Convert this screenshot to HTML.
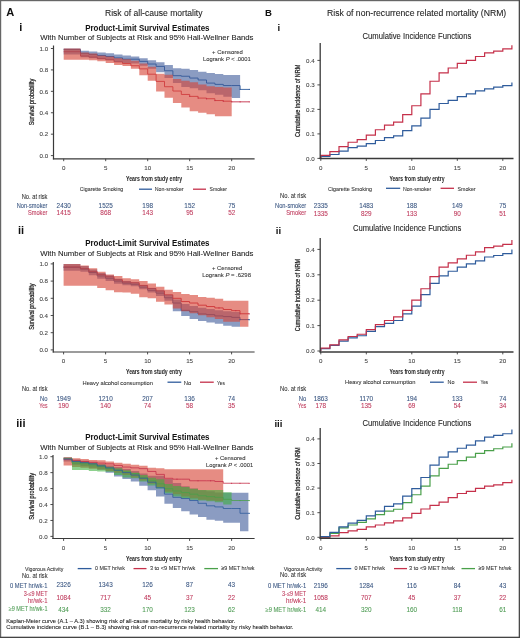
<!DOCTYPE html><html><head><meta charset="utf-8"><style>html,body{margin:0;padding:0;background:#fff;overflow:hidden}svg{display:block;will-change:transform}</style></head><body>
<svg width="520" height="638" viewBox="0 0 520 638" font-family='"Liberation Sans", sans-serif'>
<rect x="0" y="0" width="520" height="638" fill="#fff"/>
<text x="6.30" y="15.60" font-size="10.2" text-anchor="start" fill="#111" font-weight="bold" textLength="8.0" lengthAdjust="spacingAndGlyphs">A</text>
<text x="105.00" y="15.90" font-size="8.5" text-anchor="start" fill="#222" stroke="#222" stroke-width="0.08" textLength="97.5" lengthAdjust="spacingAndGlyphs">Risk of all-cause mortality</text>
<text x="19.20" y="30.60" font-size="11" text-anchor="start" fill="#111" font-weight="bold">i</text>
<text x="85.20" y="30.60" font-size="8.2" text-anchor="start" fill="#111" font-weight="bold" textLength="124.3" lengthAdjust="spacingAndGlyphs">Product-Limit Survival Estimates</text>
<text x="40.20" y="40.00" font-size="8.0" text-anchor="start" fill="#222" stroke="#222" stroke-width="0.08" textLength="213.3" lengthAdjust="spacingAndGlyphs">With Number of Subjects at Risk and 95% Hall-Wellner Bands</text>
<text x="212.10" y="53.60" font-size="6.2" text-anchor="start" fill="#333" stroke="#333" stroke-width="0.08" textLength="30.6" lengthAdjust="spacingAndGlyphs">+ Censored</text>
<text x="202.9" y="60.8" font-size="6.2" fill="#333" stroke="#333" stroke-width="0.08" textLength="47.9" lengthAdjust="spacingAndGlyphs">Logrank <tspan font-style="italic">P</tspan> &lt; .0001</text>
<path d="M63.70,49.57H80.50V53.32H88.90V54.39H97.30V55.46H105.70V56.53H114.10V57.92H122.50V59.21H130.90V59.21H139.30V61.35H147.70V64.03H156.10V66.39H164.50V70.78H172.90V75.70H181.30V76.24H189.70V78.06H198.10V79.99H206.50V83.09H214.90V84.38H223.30V85.56H231.70V85.56H240.10V89.41H249.34" fill="none" stroke="#2f5c9c" stroke-width="0.9"/>
<path d="M63.70,51.71H80.50V56.00H88.90V57.07H97.30V58.67H105.70V59.75H114.10V61.89H122.50V63.49H130.90V65.74H139.30V68.85H147.70V74.20H156.10V81.38H164.50V86.73H172.90V91.02H181.30V94.45H189.70V96.37H198.10V98.09H206.50V98.73H214.90V100.55H223.30V101.19H231.70V101.84H249.34" fill="none" stroke="#c5304a" stroke-width="0.9"/>
<path d="M63.70,48.50L80.50,48.50L80.50,50.64L88.90,50.64L88.90,51.50L97.30,51.50L97.30,52.46L105.70,52.46L105.70,53.32L114.10,53.32L114.10,54.39L122.50,54.39L122.50,55.46L130.90,55.46L130.90,56.43L139.30,56.43L139.30,58.35L147.70,58.35L147.70,60.28L156.10,60.28L156.10,62.21L164.50,62.21L164.50,64.99L172.90,64.99L172.90,68.21L181.30,68.21L181.30,68.74L189.70,68.74L189.70,69.92L198.10,69.92L198.10,71.85L206.50,71.85L206.50,73.03L214.90,73.03L214.90,73.88L223.30,73.88L223.30,74.95L231.70,74.95L231.70,74.95L240.10,74.95L240.10,98.09L231.70,98.09L231.70,96.69L223.30,96.69L223.30,94.87L214.90,94.87L214.90,93.16L206.50,93.16L206.50,90.27L198.10,90.27L198.10,88.13L189.70,88.13L189.70,87.06L181.30,87.06L181.30,82.88L172.90,82.88L172.90,78.06L164.50,78.06L164.50,72.28L156.10,72.28L156.10,68.85L147.70,68.85L147.70,65.64L139.30,65.64L139.30,63.49L130.90,63.49L130.90,62.96L122.50,62.96L122.50,61.89L114.10,61.89L114.10,60.28L105.70,60.28L105.70,59.21L97.30,59.21L97.30,58.14L88.90,58.14L88.90,57.28L80.50,57.28L80.50,54.50L63.70,54.50Z" fill="rgb(55,85,150)" fill-opacity="0.58"/>
<path d="M63.70,48.50L80.50,48.50L80.50,52.46L88.90,52.46L88.90,53.43L97.30,53.43L97.30,55.46L105.70,55.46L105.70,56.53L114.10,56.53L114.10,58.14L122.50,58.14L122.50,59.21L130.90,59.21L130.90,60.82L139.30,60.82L139.30,63.49L147.70,63.49L147.70,66.71L156.10,66.71L156.10,73.78L164.50,73.78L164.50,74.74L172.90,74.74L172.90,79.02L181.30,79.02L181.30,80.63L189.70,80.63L189.70,82.24L198.10,82.24L198.10,84.38L206.50,84.38L206.50,86.31L214.90,86.31L214.90,86.95L223.30,86.95L223.30,87.48L231.70,87.48L231.70,116.29L223.30,116.29L223.30,116.29L214.90,116.29L214.90,114.37L206.50,114.37L206.50,112.76L198.10,112.76L198.10,111.26L189.70,111.26L189.70,107.51L181.30,107.51L181.30,103.12L172.90,103.12L172.90,97.77L164.50,97.77L164.50,91.55L156.10,91.55L156.10,80.63L147.70,80.63L147.70,75.28L139.30,75.28L139.30,68.85L130.90,68.85L130.90,65.96L122.50,65.96L122.50,64.99L114.10,64.99L114.10,62.96L105.70,62.96L105.70,61.35L97.30,61.35L97.30,60.28L88.90,60.28L88.90,59.64L80.50,59.64L80.50,59.64L63.70,59.64Z" fill="rgb(215,70,55)" fill-opacity="0.62"/>
<circle cx="240.10" cy="89.41" r="0.65" fill="#2f5c9c"/>
<circle cx="249.34" cy="89.41" r="0.65" fill="#2f5c9c"/>
<circle cx="189.70" cy="96.37" r="0.65" fill="#c5304a"/>
<circle cx="198.10" cy="98.09" r="0.65" fill="#c5304a"/>
<circle cx="206.50" cy="98.73" r="0.65" fill="#c5304a"/>
<circle cx="214.90" cy="100.55" r="0.65" fill="#c5304a"/>
<circle cx="223.30" cy="101.19" r="0.65" fill="#c5304a"/>
<circle cx="231.70" cy="101.84" r="0.65" fill="#c5304a"/>
<circle cx="240.10" cy="101.84" r="0.65" fill="#c5304a"/>
<circle cx="249.34" cy="101.84" r="0.65" fill="#c5304a"/>
<line x1="53.50" y1="45.50" x2="53.50" y2="159.40" stroke="#3a3a3a" stroke-width="1.2"/>
<line x1="52.90" y1="158.80" x2="254.60" y2="158.80" stroke="#3a3a3a" stroke-width="1.2"/>
<line x1="50.90" y1="155.60" x2="53.50" y2="155.60" stroke="#3a3a3a" stroke-width="0.9"/>
<text x="48.20" y="157.80" font-size="6.2" text-anchor="end" fill="#444" stroke="#444" stroke-width="0.08">0.0</text>
<line x1="50.90" y1="134.18" x2="53.50" y2="134.18" stroke="#3a3a3a" stroke-width="0.9"/>
<text x="48.20" y="136.38" font-size="6.2" text-anchor="end" fill="#444" stroke="#444" stroke-width="0.08">0.2</text>
<line x1="50.90" y1="112.76" x2="53.50" y2="112.76" stroke="#3a3a3a" stroke-width="0.9"/>
<text x="48.20" y="114.96" font-size="6.2" text-anchor="end" fill="#444" stroke="#444" stroke-width="0.08">0.4</text>
<line x1="50.90" y1="91.34" x2="53.50" y2="91.34" stroke="#3a3a3a" stroke-width="0.9"/>
<text x="48.20" y="93.54" font-size="6.2" text-anchor="end" fill="#444" stroke="#444" stroke-width="0.08">0.6</text>
<line x1="50.90" y1="69.92" x2="53.50" y2="69.92" stroke="#3a3a3a" stroke-width="0.9"/>
<text x="48.20" y="72.12" font-size="6.2" text-anchor="end" fill="#444" stroke="#444" stroke-width="0.08">0.8</text>
<line x1="50.90" y1="48.50" x2="53.50" y2="48.50" stroke="#3a3a3a" stroke-width="0.9"/>
<text x="48.20" y="50.70" font-size="6.2" text-anchor="end" fill="#444" stroke="#444" stroke-width="0.08">1.0</text>
<line x1="63.70" y1="158.80" x2="63.70" y2="161.20" stroke="#3a3a3a" stroke-width="0.9"/>
<text x="63.70" y="169.60" font-size="6.2" text-anchor="middle" fill="#444" stroke="#444" stroke-width="0.08">0</text>
<line x1="105.70" y1="158.80" x2="105.70" y2="161.20" stroke="#3a3a3a" stroke-width="0.9"/>
<text x="105.70" y="169.60" font-size="6.2" text-anchor="middle" fill="#444" stroke="#444" stroke-width="0.08">5</text>
<line x1="147.70" y1="158.80" x2="147.70" y2="161.20" stroke="#3a3a3a" stroke-width="0.9"/>
<text x="147.70" y="169.60" font-size="6.2" text-anchor="middle" fill="#444" stroke="#444" stroke-width="0.08">10</text>
<line x1="189.70" y1="158.80" x2="189.70" y2="161.20" stroke="#3a3a3a" stroke-width="0.9"/>
<text x="189.70" y="169.60" font-size="6.2" text-anchor="middle" fill="#444" stroke="#444" stroke-width="0.08">15</text>
<line x1="231.70" y1="158.80" x2="231.70" y2="161.20" stroke="#3a3a3a" stroke-width="0.9"/>
<text x="231.70" y="169.60" font-size="6.2" text-anchor="middle" fill="#444" stroke="#444" stroke-width="0.08">20</text>
<text x="34.20" y="102.00" font-size="7.0" text-anchor="middle" fill="#222" textLength="46.4" lengthAdjust="spacingAndGlyphs" transform="rotate(-90 34.20 102.00)" style="stroke:#222;stroke-width:0.25">Survival probability</text>
<text x="126.00" y="181.20" font-size="7.0" text-anchor="start" fill="#222" font-weight="bold" textLength="56.2" lengthAdjust="spacingAndGlyphs">Years from study entry</text>
<text x="79.80" y="191.00" font-size="6.0" text-anchor="start" fill="#333" stroke="#333" stroke-width="0.08" textLength="43.5" lengthAdjust="spacingAndGlyphs">Cigarette Smoking</text>
<line x1="139.00" y1="189.20" x2="152.00" y2="189.20" stroke="#2f5c9c" stroke-width="1.3"/>
<text x="154.80" y="191.00" font-size="6.0" text-anchor="start" fill="#333" stroke="#333" stroke-width="0.08" textLength="28.8" lengthAdjust="spacingAndGlyphs">Non-smoker</text>
<line x1="193.00" y1="189.20" x2="206.00" y2="189.20" stroke="#c5304a" stroke-width="1.3"/>
<text x="209.60" y="191.00" font-size="6.0" text-anchor="start" fill="#333" stroke="#333" stroke-width="0.08" textLength="17.4" lengthAdjust="spacingAndGlyphs">Smoker</text>
<text x="47.50" y="198.50" font-size="6.5" text-anchor="end" fill="#333" stroke="#333" stroke-width="0.08" textLength="25.8" lengthAdjust="spacingAndGlyphs">No. at risk</text>
<text x="47.50" y="207.90" font-size="6.3" text-anchor="end" fill="#3a5682" stroke="#3a5682" stroke-width="0.08" textLength="30.8" lengthAdjust="spacingAndGlyphs">Non-smoker</text>
<text x="63.70" y="207.90" font-size="6.4" text-anchor="middle" fill="#3a5682" stroke="#3a5682" stroke-width="0.08">2430</text>
<text x="105.70" y="207.90" font-size="6.4" text-anchor="middle" fill="#3a5682" stroke="#3a5682" stroke-width="0.08">1525</text>
<text x="147.70" y="207.90" font-size="6.4" text-anchor="middle" fill="#3a5682" stroke="#3a5682" stroke-width="0.08">198</text>
<text x="189.70" y="207.90" font-size="6.4" text-anchor="middle" fill="#3a5682" stroke="#3a5682" stroke-width="0.08">152</text>
<text x="231.70" y="207.90" font-size="6.4" text-anchor="middle" fill="#3a5682" stroke="#3a5682" stroke-width="0.08">75</text>
<text x="47.50" y="215.20" font-size="6.3" text-anchor="end" fill="#bf3a5c" stroke="#bf3a5c" stroke-width="0.08" textLength="19.6" lengthAdjust="spacingAndGlyphs">Smoker</text>
<text x="63.70" y="215.20" font-size="6.4" text-anchor="middle" fill="#bf3a5c" stroke="#bf3a5c" stroke-width="0.08">1415</text>
<text x="105.70" y="215.20" font-size="6.4" text-anchor="middle" fill="#bf3a5c" stroke="#bf3a5c" stroke-width="0.08">868</text>
<text x="147.70" y="215.20" font-size="6.4" text-anchor="middle" fill="#bf3a5c" stroke="#bf3a5c" stroke-width="0.08">143</text>
<text x="189.70" y="215.20" font-size="6.4" text-anchor="middle" fill="#bf3a5c" stroke="#bf3a5c" stroke-width="0.08">95</text>
<text x="231.70" y="215.20" font-size="6.4" text-anchor="middle" fill="#bf3a5c" stroke="#bf3a5c" stroke-width="0.08">52</text>
<text x="265.00" y="15.50" font-size="9.6" text-anchor="start" fill="#111" font-weight="bold">B</text>
<text x="327.00" y="15.70" font-size="8.5" text-anchor="start" fill="#222" stroke="#222" stroke-width="0.08" textLength="179.25" lengthAdjust="spacingAndGlyphs">Risk of non-recurrence related mortality (NRM)</text>
<text x="277.50" y="30.50" font-size="9.6" text-anchor="start" fill="#111" font-weight="bold">i</text>
<text x="362.50" y="38.80" font-size="8.2" text-anchor="start" fill="#222" stroke="#222" stroke-width="0.08" textLength="108.75" lengthAdjust="spacingAndGlyphs">Cumulative Incidence Functions</text>
<path d="M320.80,158.40V156.44H329.90V154.48H339.00V151.05H348.10V147.62H357.20V146.15H366.30V143.70H375.40V140.52H384.50V137.57H393.60V135.86H402.70V130.72H411.80V125.81H420.90V118.22H430.00V109.40H439.10V103.52H448.20V100.34H457.30V96.66H466.40V93.97H475.50V90.78H484.60V88.82H493.70V87.11H502.80V85.64H511.90V82.45" fill="none" stroke="#2f5c9c" stroke-width="1.2"/>
<path d="M320.80,158.40V155.46H329.90V151.54H339.00V146.64H348.10V142.23H357.20V139.53H366.30V135.12H375.40V129.74H384.50V125.08H393.60V122.14H402.70V114.55H411.80V105.73H420.90V93.97H430.00V81.23H439.10V72.90H448.20V68.00H457.30V63.34H466.40V60.40H475.50V56.48H484.60V52.81H493.70V51.09H502.80V48.89H511.90V45.21" fill="none" stroke="#c5304a" stroke-width="1.2"/>
<line x1="320.20" y1="43.00" x2="320.20" y2="159.10" stroke="#3a3a3a" stroke-width="1.3"/>
<line x1="319.60" y1="158.50" x2="513.50" y2="158.50" stroke="#3a3a3a" stroke-width="1.3"/>
<line x1="317.40" y1="158.40" x2="320.20" y2="158.40" stroke="#3a3a3a" stroke-width="0.9"/>
<text x="314.70" y="160.60" font-size="6.2" text-anchor="end" fill="#444" stroke="#444" stroke-width="0.08">0.0</text>
<line x1="317.40" y1="133.90" x2="320.20" y2="133.90" stroke="#3a3a3a" stroke-width="0.9"/>
<text x="314.70" y="136.10" font-size="6.2" text-anchor="end" fill="#444" stroke="#444" stroke-width="0.08">0.1</text>
<line x1="317.40" y1="109.40" x2="320.20" y2="109.40" stroke="#3a3a3a" stroke-width="0.9"/>
<text x="314.70" y="111.60" font-size="6.2" text-anchor="end" fill="#444" stroke="#444" stroke-width="0.08">0.2</text>
<line x1="317.40" y1="84.90" x2="320.20" y2="84.90" stroke="#3a3a3a" stroke-width="0.9"/>
<text x="314.70" y="87.10" font-size="6.2" text-anchor="end" fill="#444" stroke="#444" stroke-width="0.08">0.3</text>
<line x1="317.40" y1="60.40" x2="320.20" y2="60.40" stroke="#3a3a3a" stroke-width="0.9"/>
<text x="314.70" y="62.60" font-size="6.2" text-anchor="end" fill="#444" stroke="#444" stroke-width="0.08">0.4</text>
<line x1="320.80" y1="158.50" x2="320.80" y2="160.90" stroke="#3a3a3a" stroke-width="0.9"/>
<text x="320.80" y="169.60" font-size="6.2" text-anchor="middle" fill="#444" stroke="#444" stroke-width="0.08">0</text>
<line x1="366.30" y1="158.50" x2="366.30" y2="160.90" stroke="#3a3a3a" stroke-width="0.9"/>
<text x="366.30" y="169.60" font-size="6.2" text-anchor="middle" fill="#444" stroke="#444" stroke-width="0.08">5</text>
<line x1="411.80" y1="158.50" x2="411.80" y2="160.90" stroke="#3a3a3a" stroke-width="0.9"/>
<text x="411.80" y="169.60" font-size="6.2" text-anchor="middle" fill="#444" stroke="#444" stroke-width="0.08">10</text>
<line x1="457.30" y1="158.50" x2="457.30" y2="160.90" stroke="#3a3a3a" stroke-width="0.9"/>
<text x="457.30" y="169.60" font-size="6.2" text-anchor="middle" fill="#444" stroke="#444" stroke-width="0.08">15</text>
<line x1="502.80" y1="158.50" x2="502.80" y2="160.90" stroke="#3a3a3a" stroke-width="0.9"/>
<text x="502.80" y="169.60" font-size="6.2" text-anchor="middle" fill="#444" stroke="#444" stroke-width="0.08">20</text>
<text x="300.20" y="100.90" font-size="7.0" text-anchor="middle" fill="#222" textLength="72.3" lengthAdjust="spacingAndGlyphs" transform="rotate(-90 300.20 100.90)" style="stroke:#222;stroke-width:0.25">Cumulative incidence of NRM</text>
<text x="389.40" y="181.00" font-size="7.0" text-anchor="start" fill="#222" font-weight="bold" textLength="55.2" lengthAdjust="spacingAndGlyphs">Years from study entry</text>
<text x="328.00" y="190.50" font-size="6.0" text-anchor="start" fill="#333" stroke="#333" stroke-width="0.08" textLength="44" lengthAdjust="spacingAndGlyphs">Cigarette Smoking</text>
<line x1="386.00" y1="188.30" x2="400.20" y2="188.30" stroke="#2f5c9c" stroke-width="1.3"/>
<text x="402.90" y="190.50" font-size="6.0" text-anchor="start" fill="#333" stroke="#333" stroke-width="0.08" textLength="28.3" lengthAdjust="spacingAndGlyphs">Non-smoker</text>
<line x1="440.60" y1="188.30" x2="454.00" y2="188.30" stroke="#c5304a" stroke-width="1.3"/>
<text x="457.50" y="190.50" font-size="6.0" text-anchor="start" fill="#333" stroke="#333" stroke-width="0.08" textLength="18.1" lengthAdjust="spacingAndGlyphs">Smoker</text>
<text x="306.25" y="198.00" font-size="6.5" text-anchor="end" fill="#333" stroke="#333" stroke-width="0.08" textLength="26.25" lengthAdjust="spacingAndGlyphs">No. at risk</text>
<text x="306.25" y="207.80" font-size="6.3" text-anchor="end" fill="#3a5682" stroke="#3a5682" stroke-width="0.08" textLength="31.25" lengthAdjust="spacingAndGlyphs">Non-smoker</text>
<text x="320.80" y="208.20" font-size="6.4" text-anchor="middle" fill="#3a5682" stroke="#3a5682" stroke-width="0.08">2335</text>
<text x="366.30" y="208.20" font-size="6.4" text-anchor="middle" fill="#3a5682" stroke="#3a5682" stroke-width="0.08">1483</text>
<text x="411.80" y="208.20" font-size="6.4" text-anchor="middle" fill="#3a5682" stroke="#3a5682" stroke-width="0.08">188</text>
<text x="457.30" y="208.20" font-size="6.4" text-anchor="middle" fill="#3a5682" stroke="#3a5682" stroke-width="0.08">149</text>
<text x="502.80" y="208.20" font-size="6.4" text-anchor="middle" fill="#3a5682" stroke="#3a5682" stroke-width="0.08">75</text>
<text x="306.25" y="215.20" font-size="6.3" text-anchor="end" fill="#bf3a5c" stroke="#bf3a5c" stroke-width="0.08" textLength="20" lengthAdjust="spacingAndGlyphs">Smoker</text>
<text x="320.80" y="215.60" font-size="6.4" text-anchor="middle" fill="#bf3a5c" stroke="#bf3a5c" stroke-width="0.08">1335</text>
<text x="366.30" y="215.60" font-size="6.4" text-anchor="middle" fill="#bf3a5c" stroke="#bf3a5c" stroke-width="0.08">829</text>
<text x="411.80" y="215.60" font-size="6.4" text-anchor="middle" fill="#bf3a5c" stroke="#bf3a5c" stroke-width="0.08">133</text>
<text x="457.30" y="215.60" font-size="6.4" text-anchor="middle" fill="#bf3a5c" stroke="#bf3a5c" stroke-width="0.08">90</text>
<text x="502.80" y="215.60" font-size="6.4" text-anchor="middle" fill="#bf3a5c" stroke="#bf3a5c" stroke-width="0.08">51</text>
<text x="17.90" y="234.40" font-size="11" text-anchor="start" fill="#111" font-weight="bold">ii</text>
<text x="85.20" y="246.00" font-size="8.2" text-anchor="start" fill="#111" font-weight="bold" textLength="124.3" lengthAdjust="spacingAndGlyphs">Product-Limit Survival Estimates</text>
<text x="40.20" y="256.00" font-size="8.0" text-anchor="start" fill="#222" stroke="#222" stroke-width="0.08" textLength="213.3" lengthAdjust="spacingAndGlyphs">With Number of Subjects at Risk and 95% Hall-Wellner Bands</text>
<text x="211.90" y="269.75" font-size="6.2" text-anchor="start" fill="#333" stroke="#333" stroke-width="0.08" textLength="30.35" lengthAdjust="spacingAndGlyphs">+ Censored</text>
<text x="202.25" y="276.9" font-size="6.2" fill="#333" stroke="#333" stroke-width="0.08" textLength="48.75" lengthAdjust="spacingAndGlyphs">Logrank <tspan font-style="italic">P</tspan> = .6298</text>
<path d="M63.60,267.34H80.40V269.06H88.80V272.50H97.20V275.94H105.60V278.26H114.00V281.10H122.40V283.16H130.80V284.28H139.20V287.12H147.60V290.30H156.00V293.14H164.40V297.78H172.80V303.03H181.20V310.34H189.60V311.72H198.00V313.95H206.40V314.64H214.80V315.93H223.20V316.62H231.60V317.39H240.00V319.63H249.24" fill="none" stroke="#2f5c9c" stroke-width="1.0"/>
<path d="M63.60,266.91H80.40V268.63H88.80V271.64H97.20V274.65H105.60V276.80H114.00V279.81H122.40V281.96H130.80V282.82H139.20V285.40H147.60V288.41H156.00V290.99H164.40V294.86H172.80V298.30H181.20V301.57H189.60V303.03H198.00V305.18H206.40V306.56H214.80V307.93H223.20V309.48H231.60V310.68H240.00V313.78H249.24" fill="none" stroke="#c5304a" stroke-width="1.0"/>
<path d="M63.60,263.90L80.40,263.90L80.40,266.05L88.80,266.05L88.80,269.49L97.20,269.49L97.20,273.02L105.60,273.02L105.60,275.34L114.00,275.34L114.00,278.78L122.40,278.78L122.40,281.10L130.80,281.10L130.80,282.22L139.20,282.22L139.20,285.23L147.60,285.23L147.60,287.98L156.00,287.98L156.00,290.30L164.40,290.30L164.40,294.86L172.80,294.86L172.80,299.50L181.20,299.50L181.20,303.98L189.60,303.98L189.60,306.04L198.00,306.04L198.00,307.76L206.40,307.76L206.40,309.05L214.80,309.05L214.80,310.34L223.20,310.34L223.20,311.20L231.60,311.20L231.60,312.06L240.00,312.06L240.00,326.77L231.60,326.77L231.60,325.73L223.20,325.73L223.20,323.67L214.80,323.67L214.80,322.47L206.40,322.47L206.40,321.00L198.00,321.00L198.00,318.94L189.60,318.94L189.60,316.02L181.20,316.02L181.20,311.20L172.80,311.20L172.80,300.71L164.40,300.71L164.40,295.98L156.00,295.98L156.00,292.62L147.60,292.62L147.60,289.18L139.20,289.18L139.20,286.26L130.80,286.26L130.80,285.23L122.40,285.23L122.40,283.77L114.00,283.77L114.00,281.10L105.60,281.10L105.60,278.78L97.20,278.78L97.20,275.34L88.80,275.34L88.80,271.81L80.40,271.81L80.40,270.78L63.60,270.78Z" fill="rgb(55,85,150)" fill-opacity="0.58"/>
<path d="M63.60,263.90L80.40,263.90L80.40,265.62L88.80,265.62L88.80,268.37L97.20,268.37L97.20,271.81L105.60,271.81L105.60,274.56L114.00,274.56L114.00,275.94L122.40,275.94L122.40,278.26L130.80,278.26L130.80,279.21L139.20,279.21L139.20,281.10L147.60,281.10L147.60,283.42L156.00,283.42L156.00,286.78L164.40,286.78L164.40,289.70L172.80,289.70L172.80,292.11L181.20,292.11L181.20,294.00L189.60,294.00L189.60,295.03L198.00,295.03L198.00,296.92L206.40,296.92L206.40,297.87L214.80,297.87L214.80,298.82L223.20,298.82L223.20,300.79L231.60,300.79L231.60,300.79L240.00,300.79L240.00,300.79L248.40,300.79L248.40,326.68L240.00,326.68L240.00,321.86L231.60,321.86L231.60,321.86L223.20,321.86L223.20,319.03L214.80,319.03L214.80,317.13L206.40,317.13L206.40,315.24L198.00,315.24L198.00,313.26L189.60,313.26L189.60,311.29L181.20,311.29L181.20,308.53L172.80,308.53L172.80,304.58L164.40,304.58L164.40,301.74L156.00,301.74L156.00,298.30L147.60,298.30L147.60,297.18L139.20,297.18L139.20,293.83L130.80,293.83L130.80,292.62L122.40,292.62L122.40,292.19L114.00,292.19L114.00,290.30L105.60,290.30L105.60,287.98L97.20,287.98L97.20,285.74L88.80,285.74L88.80,285.74L80.40,285.74L80.40,285.74L63.60,285.74Z" fill="rgb(215,70,55)" fill-opacity="0.62"/>
<circle cx="240.00" cy="313.78" r="0.6" fill="#c5304a"/>
<circle cx="249.24" cy="313.78" r="0.6" fill="#c5304a"/>
<circle cx="219.00" cy="307.93" r="0.6" fill="#c5304a"/>
<circle cx="235.80" cy="310.68" r="0.6" fill="#c5304a"/>
<circle cx="240.00" cy="319.63" r="0.6" fill="#2f5c9c"/>
<circle cx="249.24" cy="319.63" r="0.6" fill="#2f5c9c"/>
<line x1="53.30" y1="262.00" x2="53.30" y2="352.60" stroke="#3a3a3a" stroke-width="1.2"/>
<line x1="52.70" y1="352.00" x2="254.60" y2="352.00" stroke="#3a3a3a" stroke-width="1.2"/>
<line x1="50.70" y1="349.90" x2="53.30" y2="349.90" stroke="#3a3a3a" stroke-width="0.9"/>
<text x="48.00" y="352.10" font-size="6.2" text-anchor="end" fill="#444" stroke="#444" stroke-width="0.08">0.0</text>
<line x1="50.70" y1="332.70" x2="53.30" y2="332.70" stroke="#3a3a3a" stroke-width="0.9"/>
<text x="48.00" y="334.90" font-size="6.2" text-anchor="end" fill="#444" stroke="#444" stroke-width="0.08">0.2</text>
<line x1="50.70" y1="315.50" x2="53.30" y2="315.50" stroke="#3a3a3a" stroke-width="0.9"/>
<text x="48.00" y="317.70" font-size="6.2" text-anchor="end" fill="#444" stroke="#444" stroke-width="0.08">0.4</text>
<line x1="50.70" y1="298.30" x2="53.30" y2="298.30" stroke="#3a3a3a" stroke-width="0.9"/>
<text x="48.00" y="300.50" font-size="6.2" text-anchor="end" fill="#444" stroke="#444" stroke-width="0.08">0.6</text>
<line x1="50.70" y1="281.10" x2="53.30" y2="281.10" stroke="#3a3a3a" stroke-width="0.9"/>
<text x="48.00" y="283.30" font-size="6.2" text-anchor="end" fill="#444" stroke="#444" stroke-width="0.08">0.8</text>
<line x1="50.70" y1="263.90" x2="53.30" y2="263.90" stroke="#3a3a3a" stroke-width="0.9"/>
<text x="48.00" y="266.10" font-size="6.2" text-anchor="end" fill="#444" stroke="#444" stroke-width="0.08">1.0</text>
<line x1="63.60" y1="352.00" x2="63.60" y2="354.40" stroke="#3a3a3a" stroke-width="0.9"/>
<text x="63.60" y="362.80" font-size="6.2" text-anchor="middle" fill="#444" stroke="#444" stroke-width="0.08">0</text>
<line x1="105.60" y1="352.00" x2="105.60" y2="354.40" stroke="#3a3a3a" stroke-width="0.9"/>
<text x="105.60" y="362.80" font-size="6.2" text-anchor="middle" fill="#444" stroke="#444" stroke-width="0.08">5</text>
<line x1="147.60" y1="352.00" x2="147.60" y2="354.40" stroke="#3a3a3a" stroke-width="0.9"/>
<text x="147.60" y="362.80" font-size="6.2" text-anchor="middle" fill="#444" stroke="#444" stroke-width="0.08">10</text>
<line x1="189.60" y1="352.00" x2="189.60" y2="354.40" stroke="#3a3a3a" stroke-width="0.9"/>
<text x="189.60" y="362.80" font-size="6.2" text-anchor="middle" fill="#444" stroke="#444" stroke-width="0.08">15</text>
<line x1="231.60" y1="352.00" x2="231.60" y2="354.40" stroke="#3a3a3a" stroke-width="0.9"/>
<text x="231.60" y="362.80" font-size="6.2" text-anchor="middle" fill="#444" stroke="#444" stroke-width="0.08">20</text>
<text x="33.60" y="306.70" font-size="7.0" text-anchor="middle" fill="#222" textLength="46.3" lengthAdjust="spacingAndGlyphs" transform="rotate(-90 33.60 306.70)" style="stroke:#222;stroke-width:0.25">Survival probability</text>
<text x="126.00" y="374.40" font-size="7.0" text-anchor="start" fill="#222" font-weight="bold" textLength="55.75" lengthAdjust="spacingAndGlyphs">Years from study entry</text>
<text x="82.50" y="384.50" font-size="6.0" text-anchor="start" fill="#333" stroke="#333" stroke-width="0.08" textLength="70.5" lengthAdjust="spacingAndGlyphs">Heavy alcohol consumption</text>
<line x1="167.50" y1="382.20" x2="181.25" y2="382.20" stroke="#2f5c9c" stroke-width="1.3"/>
<text x="183.75" y="384.50" font-size="6.0" text-anchor="start" fill="#333" stroke="#333" stroke-width="0.08" textLength="7.5" lengthAdjust="spacingAndGlyphs">No</text>
<line x1="200.00" y1="382.20" x2="213.75" y2="382.20" stroke="#c5304a" stroke-width="1.3"/>
<text x="217.00" y="384.50" font-size="6.0" text-anchor="start" fill="#333" stroke="#333" stroke-width="0.08" textLength="8" lengthAdjust="spacingAndGlyphs">Yes</text>
<text x="47.50" y="391.30" font-size="6.5" text-anchor="end" fill="#333" stroke="#333" stroke-width="0.08" textLength="25.5" lengthAdjust="spacingAndGlyphs">No. at risk</text>
<text x="47.50" y="400.60" font-size="6.3" text-anchor="end" fill="#3a5682" stroke="#3a5682" stroke-width="0.08" textLength="7.5" lengthAdjust="spacingAndGlyphs">No</text>
<text x="63.60" y="400.80" font-size="6.4" text-anchor="middle" fill="#3a5682" stroke="#3a5682" stroke-width="0.08">1949</text>
<text x="105.60" y="400.80" font-size="6.4" text-anchor="middle" fill="#3a5682" stroke="#3a5682" stroke-width="0.08">1210</text>
<text x="147.60" y="400.80" font-size="6.4" text-anchor="middle" fill="#3a5682" stroke="#3a5682" stroke-width="0.08">207</text>
<text x="189.60" y="400.80" font-size="6.4" text-anchor="middle" fill="#3a5682" stroke="#3a5682" stroke-width="0.08">136</text>
<text x="231.60" y="400.80" font-size="6.4" text-anchor="middle" fill="#3a5682" stroke="#3a5682" stroke-width="0.08">74</text>
<text x="47.50" y="407.60" font-size="6.3" text-anchor="end" fill="#bf3a5c" stroke="#bf3a5c" stroke-width="0.08" textLength="8.25" lengthAdjust="spacingAndGlyphs">Yes</text>
<text x="63.60" y="407.80" font-size="6.4" text-anchor="middle" fill="#bf3a5c" stroke="#bf3a5c" stroke-width="0.08">190</text>
<text x="105.60" y="407.80" font-size="6.4" text-anchor="middle" fill="#bf3a5c" stroke="#bf3a5c" stroke-width="0.08">140</text>
<text x="147.60" y="407.80" font-size="6.4" text-anchor="middle" fill="#bf3a5c" stroke="#bf3a5c" stroke-width="0.08">74</text>
<text x="189.60" y="407.80" font-size="6.4" text-anchor="middle" fill="#bf3a5c" stroke="#bf3a5c" stroke-width="0.08">58</text>
<text x="231.60" y="407.80" font-size="6.4" text-anchor="middle" fill="#bf3a5c" stroke="#bf3a5c" stroke-width="0.08">35</text>
<text x="275.80" y="234.20" font-size="9.6" text-anchor="start" fill="#111" font-weight="bold">ii</text>
<text x="353.00" y="230.50" font-size="8.2" text-anchor="start" fill="#222" stroke="#222" stroke-width="0.08" textLength="108.25" lengthAdjust="spacingAndGlyphs">Cumulative Incidence Functions</text>
<path d="M320.80,351.00V348.71H329.90V345.41H339.00V341.09H348.10V337.79H357.20V335.76H366.30V331.44H375.40V326.62H384.50V323.31H393.60V320.52H402.70V313.92H411.80V306.04H420.90V294.61H430.00V283.44H439.10V275.82H448.20V271.24H457.30V267.18H466.40V263.88H475.50V260.83H484.60V257.02H493.70V255.50H502.80V253.72H511.90V249.40" fill="none" stroke="#2f5c9c" stroke-width="1.2"/>
<path d="M320.80,351.00V348.21H329.90V344.90H339.00V339.82H348.10V336.52H357.20V334.24H366.30V329.66H375.40V324.58H384.50V320.52H393.60V316.96H402.70V310.36H411.80V300.20H420.90V288.77H430.00V276.58H439.10V267.18H448.20V262.86H457.30V258.80H466.40V255.24H475.50V251.94H484.60V247.62H493.70V246.10H502.80V244.32H511.90V240.00" fill="none" stroke="#c5304a" stroke-width="1.2"/>
<line x1="320.20" y1="238.00" x2="320.20" y2="352.60" stroke="#3a3a3a" stroke-width="1.3"/>
<line x1="319.60" y1="352.00" x2="513.50" y2="352.00" stroke="#3a3a3a" stroke-width="1.3"/>
<line x1="317.40" y1="351.00" x2="320.20" y2="351.00" stroke="#3a3a3a" stroke-width="0.9"/>
<text x="314.70" y="353.20" font-size="6.2" text-anchor="end" fill="#444" stroke="#444" stroke-width="0.08">0.0</text>
<line x1="317.40" y1="325.60" x2="320.20" y2="325.60" stroke="#3a3a3a" stroke-width="0.9"/>
<text x="314.70" y="327.80" font-size="6.2" text-anchor="end" fill="#444" stroke="#444" stroke-width="0.08">0.1</text>
<line x1="317.40" y1="300.20" x2="320.20" y2="300.20" stroke="#3a3a3a" stroke-width="0.9"/>
<text x="314.70" y="302.40" font-size="6.2" text-anchor="end" fill="#444" stroke="#444" stroke-width="0.08">0.2</text>
<line x1="317.40" y1="274.80" x2="320.20" y2="274.80" stroke="#3a3a3a" stroke-width="0.9"/>
<text x="314.70" y="277.00" font-size="6.2" text-anchor="end" fill="#444" stroke="#444" stroke-width="0.08">0.3</text>
<line x1="317.40" y1="249.40" x2="320.20" y2="249.40" stroke="#3a3a3a" stroke-width="0.9"/>
<text x="314.70" y="251.60" font-size="6.2" text-anchor="end" fill="#444" stroke="#444" stroke-width="0.08">0.4</text>
<line x1="320.80" y1="352.00" x2="320.80" y2="354.40" stroke="#3a3a3a" stroke-width="0.9"/>
<text x="320.80" y="362.80" font-size="6.2" text-anchor="middle" fill="#444" stroke="#444" stroke-width="0.08">0</text>
<line x1="366.30" y1="352.00" x2="366.30" y2="354.40" stroke="#3a3a3a" stroke-width="0.9"/>
<text x="366.30" y="362.80" font-size="6.2" text-anchor="middle" fill="#444" stroke="#444" stroke-width="0.08">5</text>
<line x1="411.80" y1="352.00" x2="411.80" y2="354.40" stroke="#3a3a3a" stroke-width="0.9"/>
<text x="411.80" y="362.80" font-size="6.2" text-anchor="middle" fill="#444" stroke="#444" stroke-width="0.08">10</text>
<line x1="457.30" y1="352.00" x2="457.30" y2="354.40" stroke="#3a3a3a" stroke-width="0.9"/>
<text x="457.30" y="362.80" font-size="6.2" text-anchor="middle" fill="#444" stroke="#444" stroke-width="0.08">15</text>
<line x1="502.80" y1="352.00" x2="502.80" y2="354.40" stroke="#3a3a3a" stroke-width="0.9"/>
<text x="502.80" y="362.80" font-size="6.2" text-anchor="middle" fill="#444" stroke="#444" stroke-width="0.08">20</text>
<text x="300.20" y="295.00" font-size="7.0" text-anchor="middle" fill="#222" textLength="72.3" lengthAdjust="spacingAndGlyphs" transform="rotate(-90 300.20 295.00)" style="stroke:#222;stroke-width:0.25">Cumulative incidence of NRM</text>
<text x="389.40" y="373.60" font-size="7.0" text-anchor="start" fill="#222" font-weight="bold" textLength="55.1" lengthAdjust="spacingAndGlyphs">Years from study entry</text>
<text x="345.00" y="384.30" font-size="6.0" text-anchor="start" fill="#333" stroke="#333" stroke-width="0.08" textLength="70.5" lengthAdjust="spacingAndGlyphs">Heavy alcohol consumption</text>
<line x1="430.00" y1="382.20" x2="443.75" y2="382.20" stroke="#2f5c9c" stroke-width="1.3"/>
<text x="447.50" y="384.30" font-size="6.0" text-anchor="start" fill="#333" stroke="#333" stroke-width="0.08" textLength="7.0" lengthAdjust="spacingAndGlyphs">No</text>
<line x1="463.00" y1="382.20" x2="477.00" y2="382.20" stroke="#c5304a" stroke-width="1.3"/>
<text x="480.50" y="384.30" font-size="6.0" text-anchor="start" fill="#333" stroke="#333" stroke-width="0.08" textLength="7.5" lengthAdjust="spacingAndGlyphs">Yes</text>
<text x="306.25" y="391.30" font-size="6.5" text-anchor="end" fill="#333" stroke="#333" stroke-width="0.08" textLength="26.25" lengthAdjust="spacingAndGlyphs">No. at risk</text>
<text x="306.25" y="400.60" font-size="6.3" text-anchor="end" fill="#3a5682" stroke="#3a5682" stroke-width="0.08" textLength="7.5" lengthAdjust="spacingAndGlyphs">No</text>
<text x="320.80" y="400.80" font-size="6.4" text-anchor="middle" fill="#3a5682" stroke="#3a5682" stroke-width="0.08">1863</text>
<text x="366.30" y="400.80" font-size="6.4" text-anchor="middle" fill="#3a5682" stroke="#3a5682" stroke-width="0.08">1170</text>
<text x="411.80" y="400.80" font-size="6.4" text-anchor="middle" fill="#3a5682" stroke="#3a5682" stroke-width="0.08">194</text>
<text x="457.30" y="400.80" font-size="6.4" text-anchor="middle" fill="#3a5682" stroke="#3a5682" stroke-width="0.08">133</text>
<text x="502.80" y="400.80" font-size="6.4" text-anchor="middle" fill="#3a5682" stroke="#3a5682" stroke-width="0.08">74</text>
<text x="306.25" y="407.60" font-size="6.3" text-anchor="end" fill="#bf3a5c" stroke="#bf3a5c" stroke-width="0.08" textLength="8.25" lengthAdjust="spacingAndGlyphs">Yes</text>
<text x="320.80" y="407.80" font-size="6.4" text-anchor="middle" fill="#bf3a5c" stroke="#bf3a5c" stroke-width="0.08">178</text>
<text x="366.30" y="407.80" font-size="6.4" text-anchor="middle" fill="#bf3a5c" stroke="#bf3a5c" stroke-width="0.08">135</text>
<text x="411.80" y="407.80" font-size="6.4" text-anchor="middle" fill="#bf3a5c" stroke="#bf3a5c" stroke-width="0.08">69</text>
<text x="457.30" y="407.80" font-size="6.4" text-anchor="middle" fill="#bf3a5c" stroke="#bf3a5c" stroke-width="0.08">54</text>
<text x="502.80" y="407.80" font-size="6.4" text-anchor="middle" fill="#bf3a5c" stroke="#bf3a5c" stroke-width="0.08">34</text>
<text x="16.30" y="427.20" font-size="11" text-anchor="start" fill="#111" font-weight="bold">iii</text>
<text x="85.20" y="439.80" font-size="8.2" text-anchor="start" fill="#111" font-weight="bold" textLength="124.3" lengthAdjust="spacingAndGlyphs">Product-Limit Survival Estimates</text>
<text x="40.20" y="449.50" font-size="8.0" text-anchor="start" fill="#222" stroke="#222" stroke-width="0.08" textLength="213.3" lengthAdjust="spacingAndGlyphs">With Number of Subjects at Risk and 95% Hall-Wellner Bands</text>
<text x="215.00" y="460.00" font-size="6.2" text-anchor="start" fill="#333" stroke="#333" stroke-width="0.08" textLength="30.6" lengthAdjust="spacingAndGlyphs">+ Censored</text>
<text x="206" y="467.25" font-size="6.2" fill="#333" stroke="#333" stroke-width="0.08" textLength="47.1" lengthAdjust="spacingAndGlyphs">Logrank <tspan font-style="italic">P</tspan> &lt; .0001</text>
<path d="M63.60,457.50L72.00,457.50L72.00,459.49L80.40,459.49L80.40,460.68L88.80,460.68L88.80,462.28L97.20,462.28L97.20,463.87L105.60,463.87L105.60,465.47L114.00,465.47L114.00,467.06L122.40,467.06L122.40,469.05L130.80,469.05L130.80,471.05L139.20,471.05L139.20,473.44L147.60,473.44L147.60,475.83L156.00,475.83L156.00,475.83L164.40,475.83L164.40,479.02L172.80,479.02L172.80,483.00L181.20,483.00L181.20,486.19L189.60,486.19L189.60,488.58L198.00,488.58L198.00,490.17L206.40,490.17L206.40,491.37L214.80,491.37L214.80,492.56L223.20,492.56L223.20,492.80L231.60,492.80L231.60,492.80L240.00,492.80L240.00,492.80L248.40,492.80L248.40,531.22L240.00,531.22L240.00,522.85L231.60,522.85L231.60,522.85L223.20,522.85L223.20,520.70L214.80,520.70L214.80,519.66L206.40,519.66L206.40,516.95L198.00,516.95L198.00,514.40L189.60,514.40L189.60,511.21L181.20,511.21L181.20,508.03L172.80,508.03L172.80,503.72L164.40,503.72L164.40,496.55L156.00,496.55L156.00,490.17L147.60,490.17L147.60,485.79L139.20,485.79L139.20,481.41L130.80,481.41L130.80,479.02L122.40,479.02L122.40,476.62L114.00,476.62L114.00,472.64L105.60,472.64L105.60,469.85L97.20,469.85L97.20,467.86L88.80,467.86L88.80,466.26L80.40,466.26L80.40,464.67L72.00,464.67L72.00,461.48L63.60,461.48Z" fill="rgb(55,85,150)" fill-opacity="0.58"/>
<path d="M63.60,457.18L72.00,457.18L72.00,458.29L80.40,458.29L80.40,459.09L88.80,459.09L88.80,459.89L97.20,459.89L97.20,460.29L105.60,460.29L105.60,461.48L114.00,461.48L114.00,462.68L122.40,462.68L122.40,463.87L130.80,463.87L130.80,464.67L139.20,464.67L139.20,465.79L147.60,465.79L147.60,467.70L156.00,467.70L156.00,468.26L164.40,468.26L164.40,469.21L172.80,469.21L172.80,469.21L181.20,469.21L181.20,469.21L189.60,469.21L189.60,469.21L198.00,469.21L198.00,469.21L206.40,469.21L206.40,469.21L214.80,469.21L214.80,469.21L223.20,469.21L223.20,501.33L214.80,501.33L214.80,500.53L206.40,500.53L206.40,499.74L198.00,499.74L198.00,498.14L189.60,498.14L189.60,496.55L181.20,496.55L181.20,494.16L172.80,494.16L172.80,491.77L164.40,491.77L164.40,486.99L156.00,486.99L156.00,483.80L147.60,483.80L147.60,480.61L139.20,480.61L139.20,477.42L130.80,477.42L130.80,475.03L122.40,475.03L122.40,472.64L114.00,472.64L114.00,471.05L105.60,471.05L105.60,469.45L97.20,469.45L97.20,468.65L88.80,468.65L88.80,467.86L80.40,467.86L80.40,467.06L72.00,467.06L72.00,465.47L63.60,465.47Z" fill="rgb(215,70,55)" fill-opacity="0.62"/>
<path d="M72.00,460.68L80.40,460.68L80.40,461.88L88.80,461.88L88.80,463.08L97.20,463.08L97.20,464.67L105.60,464.67L105.60,466.66L114.00,466.66L114.00,468.26L122.40,468.26L122.40,470.25L130.80,470.25L130.80,472.64L139.20,472.64L139.20,475.03L147.60,475.03L147.60,477.82L156.00,477.82L156.00,479.18L164.40,479.18L164.40,484.04L172.80,484.04L172.80,486.03L181.20,486.03L181.20,486.99L189.60,486.99L189.60,488.82L198.00,488.82L198.00,489.93L206.40,489.93L206.40,489.93L214.80,489.93L214.80,489.93L223.20,489.93L223.20,492.33L231.60,492.33L231.60,504.52L223.20,504.52L223.20,502.13L214.80,502.13L214.80,501.33L206.40,501.33L206.40,500.53L198.00,500.53L198.00,499.74L189.60,499.74L189.60,498.14L181.20,498.14L181.20,496.55L172.80,496.55L172.80,493.36L164.40,493.36L164.40,488.58L156.00,488.58L156.00,485.39L147.60,485.39L147.60,481.41L139.20,481.41L139.20,478.22L130.80,478.22L130.80,477.42L122.40,477.42L122.40,475.03L114.00,475.03L114.00,471.84L105.60,471.84L105.60,471.44L97.20,471.44L97.20,471.05L88.80,471.05L88.80,469.93L80.40,469.93L80.40,469.93L72.00,469.93Z" fill="rgb(60,175,60)" fill-opacity="0.58"/>
<path d="M63.60,459.09H72.00V460.68H80.40V461.48H88.80V462.28H97.20V463.08H105.60V463.87H114.00V465.47H122.40V467.06H130.80V467.86H139.20V468.65H147.60V471.44H156.00V474.39H164.40V478.30H172.80V479.18H181.20V479.18H189.60V480.77H198.00V480.77H206.40V480.77H214.80V481.49H223.20V483.24H249.24" fill="none" stroke="#c5304a" stroke-width="0.8"/>
<path d="M63.60,458.29H72.00V463.08H80.40V463.87H88.80V465.07H97.20V466.66H105.60V468.65H114.00V470.25H122.40V471.84H130.80V473.44H139.20V477.42H147.60V480.61H156.00V483.80H164.40V488.58H172.80V490.97H181.20V492.56H189.60V494.16H198.00V495.75H206.40V496.55H214.80V497.35H223.20V499.34H231.60V500.53H249.24" fill="none" stroke="#4aa04a" stroke-width="0.8"/>
<path d="M63.60,459.09H72.00V461.48H80.40V462.68H88.80V463.87H97.20V465.87H105.60V467.86H114.00V470.25H122.40V472.64H130.80V475.03H139.20V478.22H147.60V482.20H156.00V487.78H164.40V494.16H172.80V497.35H181.20V498.54H189.60V500.53H198.00V503.32H206.40V505.80H214.80V506.91H223.20V508.50H231.60V508.50H240.00V513.29H249.24" fill="none" stroke="#2f5c9c" stroke-width="0.8"/>
<circle cx="231.60" cy="483.24" r="0.6" fill="#c5304a"/>
<circle cx="240.00" cy="483.24" r="0.6" fill="#c5304a"/>
<circle cx="249.24" cy="483.24" r="0.6" fill="#c5304a"/>
<circle cx="177.00" cy="479.18" r="0.6" fill="#c5304a"/>
<circle cx="198.00" cy="480.77" r="0.6" fill="#c5304a"/>
<circle cx="210.60" cy="480.77" r="0.6" fill="#c5304a"/>
<circle cx="240.00" cy="500.53" r="0.6" fill="#4aa04a"/>
<circle cx="249.24" cy="500.53" r="0.6" fill="#4aa04a"/>
<circle cx="240.00" cy="508.50" r="0.6" fill="#2f5c9c"/>
<circle cx="249.24" cy="513.29" r="0.6" fill="#2f5c9c"/>
<line x1="53.00" y1="455.00" x2="53.00" y2="539.10" stroke="#3a3a3a" stroke-width="1.2"/>
<line x1="52.40" y1="538.50" x2="254.60" y2="538.50" stroke="#3a3a3a" stroke-width="1.2"/>
<line x1="50.40" y1="536.40" x2="53.00" y2="536.40" stroke="#3a3a3a" stroke-width="0.9"/>
<text x="47.70" y="538.60" font-size="6.2" text-anchor="end" fill="#444" stroke="#444" stroke-width="0.08">0.0</text>
<line x1="50.40" y1="520.46" x2="53.00" y2="520.46" stroke="#3a3a3a" stroke-width="0.9"/>
<text x="47.70" y="522.66" font-size="6.2" text-anchor="end" fill="#444" stroke="#444" stroke-width="0.08">0.2</text>
<line x1="50.40" y1="504.52" x2="53.00" y2="504.52" stroke="#3a3a3a" stroke-width="0.9"/>
<text x="47.70" y="506.72" font-size="6.2" text-anchor="end" fill="#444" stroke="#444" stroke-width="0.08">0.4</text>
<line x1="50.40" y1="488.58" x2="53.00" y2="488.58" stroke="#3a3a3a" stroke-width="0.9"/>
<text x="47.70" y="490.78" font-size="6.2" text-anchor="end" fill="#444" stroke="#444" stroke-width="0.08">0.6</text>
<line x1="50.40" y1="472.64" x2="53.00" y2="472.64" stroke="#3a3a3a" stroke-width="0.9"/>
<text x="47.70" y="474.84" font-size="6.2" text-anchor="end" fill="#444" stroke="#444" stroke-width="0.08">0.8</text>
<line x1="50.40" y1="456.70" x2="53.00" y2="456.70" stroke="#3a3a3a" stroke-width="0.9"/>
<text x="47.70" y="458.90" font-size="6.2" text-anchor="end" fill="#444" stroke="#444" stroke-width="0.08">1.0</text>
<line x1="63.60" y1="538.50" x2="63.60" y2="540.90" stroke="#3a3a3a" stroke-width="0.9"/>
<text x="63.60" y="549.60" font-size="6.2" text-anchor="middle" fill="#444" stroke="#444" stroke-width="0.08">0</text>
<line x1="105.60" y1="538.50" x2="105.60" y2="540.90" stroke="#3a3a3a" stroke-width="0.9"/>
<text x="105.60" y="549.60" font-size="6.2" text-anchor="middle" fill="#444" stroke="#444" stroke-width="0.08">5</text>
<line x1="147.60" y1="538.50" x2="147.60" y2="540.90" stroke="#3a3a3a" stroke-width="0.9"/>
<text x="147.60" y="549.60" font-size="6.2" text-anchor="middle" fill="#444" stroke="#444" stroke-width="0.08">10</text>
<line x1="189.60" y1="538.50" x2="189.60" y2="540.90" stroke="#3a3a3a" stroke-width="0.9"/>
<text x="189.60" y="549.60" font-size="6.2" text-anchor="middle" fill="#444" stroke="#444" stroke-width="0.08">15</text>
<line x1="231.60" y1="538.50" x2="231.60" y2="540.90" stroke="#3a3a3a" stroke-width="0.9"/>
<text x="231.60" y="549.60" font-size="6.2" text-anchor="middle" fill="#444" stroke="#444" stroke-width="0.08">20</text>
<text x="33.60" y="496.40" font-size="7.0" text-anchor="middle" fill="#222" textLength="46.9" lengthAdjust="spacingAndGlyphs" transform="rotate(-90 33.60 496.40)" style="stroke:#222;stroke-width:0.25">Survival probability</text>
<text x="126.00" y="560.60" font-size="7.0" text-anchor="start" fill="#222" font-weight="bold" textLength="56" lengthAdjust="spacingAndGlyphs">Years from study entry</text>
<text x="25.00" y="570.80" font-size="6.0" text-anchor="start" fill="#333" stroke="#333" stroke-width="0.08" textLength="38.25" lengthAdjust="spacingAndGlyphs">Vigorous Activity</text>
<line x1="77.70" y1="568.60" x2="91.50" y2="568.60" stroke="#2f5c9c" stroke-width="1.3"/>
<text x="95.00" y="570.20" font-size="6.0" text-anchor="start" fill="#333" stroke="#333" stroke-width="0.08" textLength="29.8" lengthAdjust="spacingAndGlyphs">0 MET hr/wk</text>
<line x1="133.50" y1="568.60" x2="146.50" y2="568.60" stroke="#c5304a" stroke-width="1.3"/>
<text x="149.90" y="570.20" font-size="6.0" text-anchor="start" fill="#333" stroke="#333" stroke-width="0.08" textLength="45.5" lengthAdjust="spacingAndGlyphs">3 to &lt;9 MET hr/wk</text>
<line x1="204.30" y1="568.60" x2="218.00" y2="568.60" stroke="#4aa04a" stroke-width="1.3"/>
<text x="221.30" y="570.20" font-size="6.0" text-anchor="start" fill="#333" stroke="#333" stroke-width="0.08" textLength="33.2" lengthAdjust="spacingAndGlyphs">≥9 MET hr/wk</text>
<text x="47.50" y="577.60" font-size="6.5" text-anchor="end" fill="#333" stroke="#333" stroke-width="0.08" textLength="25.5" lengthAdjust="spacingAndGlyphs">No. at risk</text>
<text x="47.50" y="587.50" font-size="6.3" text-anchor="end" fill="#3a5682" stroke="#3a5682" stroke-width="0.08" textLength="37.5" lengthAdjust="spacingAndGlyphs">0 MET hr/wk-1</text>
<text x="63.60" y="587.30" font-size="6.4" text-anchor="middle" fill="#3a5682" stroke="#3a5682" stroke-width="0.08">2326</text>
<text x="105.60" y="587.30" font-size="6.4" text-anchor="middle" fill="#3a5682" stroke="#3a5682" stroke-width="0.08">1343</text>
<text x="147.60" y="587.30" font-size="6.4" text-anchor="middle" fill="#3a5682" stroke="#3a5682" stroke-width="0.08">126</text>
<text x="189.60" y="587.30" font-size="6.4" text-anchor="middle" fill="#3a5682" stroke="#3a5682" stroke-width="0.08">87</text>
<text x="231.60" y="587.30" font-size="6.4" text-anchor="middle" fill="#3a5682" stroke="#3a5682" stroke-width="0.08">43</text>
<text x="47.50" y="595.50" font-size="6.3" text-anchor="end" fill="#bf3a5c" stroke="#bf3a5c" stroke-width="0.08" textLength="23.75" lengthAdjust="spacingAndGlyphs">3-≤9 MET</text>
<text x="47.50" y="602.60" font-size="6.3" text-anchor="end" fill="#bf3a5c" stroke="#bf3a5c" stroke-width="0.08" textLength="19.5" lengthAdjust="spacingAndGlyphs">hr/wk-1</text>
<text x="63.60" y="600.00" font-size="6.4" text-anchor="middle" fill="#bf3a5c" stroke="#bf3a5c" stroke-width="0.08">1084</text>
<text x="105.60" y="600.00" font-size="6.4" text-anchor="middle" fill="#bf3a5c" stroke="#bf3a5c" stroke-width="0.08">717</text>
<text x="147.60" y="600.00" font-size="6.4" text-anchor="middle" fill="#bf3a5c" stroke="#bf3a5c" stroke-width="0.08">45</text>
<text x="189.60" y="600.00" font-size="6.4" text-anchor="middle" fill="#bf3a5c" stroke="#bf3a5c" stroke-width="0.08">37</text>
<text x="231.60" y="600.00" font-size="6.4" text-anchor="middle" fill="#bf3a5c" stroke="#bf3a5c" stroke-width="0.08">22</text>
<text x="47.50" y="610.50" font-size="6.3" text-anchor="end" fill="#4f9c55" stroke="#4f9c55" stroke-width="0.08" textLength="38.75" lengthAdjust="spacingAndGlyphs">≥9 MET hr/wk-1</text>
<text x="63.60" y="611.50" font-size="6.4" text-anchor="middle" fill="#4f9c55" stroke="#4f9c55" stroke-width="0.08">434</text>
<text x="105.60" y="611.50" font-size="6.4" text-anchor="middle" fill="#4f9c55" stroke="#4f9c55" stroke-width="0.08">332</text>
<text x="147.60" y="611.50" font-size="6.4" text-anchor="middle" fill="#4f9c55" stroke="#4f9c55" stroke-width="0.08">170</text>
<text x="189.60" y="611.50" font-size="6.4" text-anchor="middle" fill="#4f9c55" stroke="#4f9c55" stroke-width="0.08">123</text>
<text x="231.60" y="611.50" font-size="6.4" text-anchor="middle" fill="#4f9c55" stroke="#4f9c55" stroke-width="0.08">62</text>
<text x="274.40" y="427.20" font-size="9.6" text-anchor="start" fill="#111" font-weight="bold">iii</text>
<text x="362.50" y="425.50" font-size="8.2" text-anchor="start" fill="#222" stroke="#222" stroke-width="0.08" textLength="108.75" lengthAdjust="spacingAndGlyphs">Cumulative Incidence Functions</text>
<path d="M320.80,537.30V537.30H329.90V535.82H339.00V532.63H348.10V530.90H357.20V529.43H366.30V526.97H375.40V525.00H384.50V522.79H393.60V520.82H402.70V517.87H411.80V513.44H420.90V509.01H430.00V505.32H439.10V502.12H448.20V497.69H457.30V493.51H466.40V491.30H475.50V488.35H484.60V486.13H493.70V484.90H502.80V482.69H511.90V479.74" fill="none" stroke="#c5304a" stroke-width="1.2"/>
<path d="M320.80,537.30V536.56H329.90V533.36H339.00V527.95H348.10V525.00H357.20V522.29H366.30V518.85H375.40V514.67H384.50V511.22H393.60V509.26H402.70V502.61H411.80V494.74H420.90V486.13H430.00V475.80H439.10V468.42H448.20V464.24H457.30V460.55H466.40V457.10H475.50V453.41H484.60V450.71H493.70V448.74H502.80V447.02H511.90V443.33" fill="none" stroke="#4aa04a" stroke-width="1.2"/>
<path d="M320.80,537.30V536.56H329.90V532.38H339.00V526.97H348.10V523.03H357.20V520.33H366.30V515.90H375.40V511.22H384.50V506.30H393.60V503.84H402.70V496.22H411.80V488.59H420.90V477.52H430.00V465.22H439.10V457.10H448.20V451.94H457.30V448.25H466.40V445.05H475.50V440.87H484.60V437.18H493.70V435.46H502.80V433.73H511.90V429.55" fill="none" stroke="#2f5c9c" stroke-width="1.2"/>
<line x1="320.20" y1="428.00" x2="320.20" y2="538.90" stroke="#3a3a3a" stroke-width="1.3"/>
<line x1="319.60" y1="538.30" x2="513.50" y2="538.30" stroke="#3a3a3a" stroke-width="1.3"/>
<line x1="317.40" y1="537.30" x2="320.20" y2="537.30" stroke="#3a3a3a" stroke-width="0.9"/>
<text x="314.70" y="539.50" font-size="6.2" text-anchor="end" fill="#444" stroke="#444" stroke-width="0.08">0.0</text>
<line x1="317.40" y1="512.70" x2="320.20" y2="512.70" stroke="#3a3a3a" stroke-width="0.9"/>
<text x="314.70" y="514.90" font-size="6.2" text-anchor="end" fill="#444" stroke="#444" stroke-width="0.08">0.1</text>
<line x1="317.40" y1="488.10" x2="320.20" y2="488.10" stroke="#3a3a3a" stroke-width="0.9"/>
<text x="314.70" y="490.30" font-size="6.2" text-anchor="end" fill="#444" stroke="#444" stroke-width="0.08">0.2</text>
<line x1="317.40" y1="463.50" x2="320.20" y2="463.50" stroke="#3a3a3a" stroke-width="0.9"/>
<text x="314.70" y="465.70" font-size="6.2" text-anchor="end" fill="#444" stroke="#444" stroke-width="0.08">0.3</text>
<line x1="317.40" y1="438.90" x2="320.20" y2="438.90" stroke="#3a3a3a" stroke-width="0.9"/>
<text x="314.70" y="441.10" font-size="6.2" text-anchor="end" fill="#444" stroke="#444" stroke-width="0.08">0.4</text>
<line x1="320.80" y1="538.30" x2="320.80" y2="540.70" stroke="#3a3a3a" stroke-width="0.9"/>
<text x="320.80" y="549.60" font-size="6.2" text-anchor="middle" fill="#444" stroke="#444" stroke-width="0.08">0</text>
<line x1="366.30" y1="538.30" x2="366.30" y2="540.70" stroke="#3a3a3a" stroke-width="0.9"/>
<text x="366.30" y="549.60" font-size="6.2" text-anchor="middle" fill="#444" stroke="#444" stroke-width="0.08">5</text>
<line x1="411.80" y1="538.30" x2="411.80" y2="540.70" stroke="#3a3a3a" stroke-width="0.9"/>
<text x="411.80" y="549.60" font-size="6.2" text-anchor="middle" fill="#444" stroke="#444" stroke-width="0.08">10</text>
<line x1="457.30" y1="538.30" x2="457.30" y2="540.70" stroke="#3a3a3a" stroke-width="0.9"/>
<text x="457.30" y="549.60" font-size="6.2" text-anchor="middle" fill="#444" stroke="#444" stroke-width="0.08">15</text>
<line x1="502.80" y1="538.30" x2="502.80" y2="540.70" stroke="#3a3a3a" stroke-width="0.9"/>
<text x="502.80" y="549.60" font-size="6.2" text-anchor="middle" fill="#444" stroke="#444" stroke-width="0.08">20</text>
<text x="300.20" y="483.70" font-size="7.0" text-anchor="middle" fill="#222" textLength="72.3" lengthAdjust="spacingAndGlyphs" transform="rotate(-90 300.20 483.70)" style="stroke:#222;stroke-width:0.25">Cumulative incidence of NRM</text>
<text x="389.40" y="560.60" font-size="7.0" text-anchor="start" fill="#222" font-weight="bold" textLength="55.2" lengthAdjust="spacingAndGlyphs">Years from study entry</text>
<text x="283.75" y="570.90" font-size="6.0" text-anchor="start" fill="#333" stroke="#333" stroke-width="0.08" textLength="38.75" lengthAdjust="spacingAndGlyphs">Vigorous Activity</text>
<line x1="336.25" y1="568.60" x2="351.25" y2="568.60" stroke="#2f5c9c" stroke-width="1.3"/>
<text x="354.50" y="570.20" font-size="6.0" text-anchor="start" fill="#333" stroke="#333" stroke-width="0.08" textLength="30.5" lengthAdjust="spacingAndGlyphs">0 MET hr/wk</text>
<line x1="394.00" y1="568.60" x2="407.00" y2="568.60" stroke="#c5304a" stroke-width="1.3"/>
<text x="409.00" y="570.20" font-size="6.0" text-anchor="start" fill="#333" stroke="#333" stroke-width="0.08" textLength="45.9" lengthAdjust="spacingAndGlyphs">3 to &lt;9 MET hr/wk</text>
<line x1="461.50" y1="568.60" x2="475.00" y2="568.60" stroke="#4aa04a" stroke-width="1.3"/>
<text x="478.50" y="570.20" font-size="6.0" text-anchor="start" fill="#333" stroke="#333" stroke-width="0.08" textLength="33.0" lengthAdjust="spacingAndGlyphs">≥9 MET hr/wk</text>
<text x="306.25" y="577.20" font-size="6.5" text-anchor="end" fill="#333" stroke="#333" stroke-width="0.08" textLength="26.25" lengthAdjust="spacingAndGlyphs">No. at risk</text>
<text x="306.25" y="587.70" font-size="6.3" text-anchor="end" fill="#3a5682" stroke="#3a5682" stroke-width="0.08" textLength="38.25" lengthAdjust="spacingAndGlyphs">0 MET hr/wk-1</text>
<text x="320.80" y="587.50" font-size="6.4" text-anchor="middle" fill="#3a5682" stroke="#3a5682" stroke-width="0.08">2196</text>
<text x="366.30" y="587.50" font-size="6.4" text-anchor="middle" fill="#3a5682" stroke="#3a5682" stroke-width="0.08">1284</text>
<text x="411.80" y="587.50" font-size="6.4" text-anchor="middle" fill="#3a5682" stroke="#3a5682" stroke-width="0.08">116</text>
<text x="457.30" y="587.50" font-size="6.4" text-anchor="middle" fill="#3a5682" stroke="#3a5682" stroke-width="0.08">84</text>
<text x="502.80" y="587.50" font-size="6.4" text-anchor="middle" fill="#3a5682" stroke="#3a5682" stroke-width="0.08">43</text>
<text x="306.25" y="596.00" font-size="6.3" text-anchor="end" fill="#bf3a5c" stroke="#bf3a5c" stroke-width="0.08" textLength="24.25" lengthAdjust="spacingAndGlyphs">3-≤9 MET</text>
<text x="306.25" y="603.00" font-size="6.3" text-anchor="end" fill="#bf3a5c" stroke="#bf3a5c" stroke-width="0.08" textLength="20.25" lengthAdjust="spacingAndGlyphs">hr/wk-1</text>
<text x="320.80" y="600.00" font-size="6.4" text-anchor="middle" fill="#bf3a5c" stroke="#bf3a5c" stroke-width="0.08">1058</text>
<text x="366.30" y="600.00" font-size="6.4" text-anchor="middle" fill="#bf3a5c" stroke="#bf3a5c" stroke-width="0.08">707</text>
<text x="411.80" y="600.00" font-size="6.4" text-anchor="middle" fill="#bf3a5c" stroke="#bf3a5c" stroke-width="0.08">45</text>
<text x="457.30" y="600.00" font-size="6.4" text-anchor="middle" fill="#bf3a5c" stroke="#bf3a5c" stroke-width="0.08">37</text>
<text x="502.80" y="600.00" font-size="6.4" text-anchor="middle" fill="#bf3a5c" stroke="#bf3a5c" stroke-width="0.08">22</text>
<text x="306.25" y="611.50" font-size="6.3" text-anchor="end" fill="#4f9c55" stroke="#4f9c55" stroke-width="0.08" textLength="40.75" lengthAdjust="spacingAndGlyphs">≥9 MET hr/wk-1</text>
<text x="320.80" y="612.30" font-size="6.4" text-anchor="middle" fill="#4f9c55" stroke="#4f9c55" stroke-width="0.08">414</text>
<text x="366.30" y="612.30" font-size="6.4" text-anchor="middle" fill="#4f9c55" stroke="#4f9c55" stroke-width="0.08">320</text>
<text x="411.80" y="612.30" font-size="6.4" text-anchor="middle" fill="#4f9c55" stroke="#4f9c55" stroke-width="0.08">160</text>
<text x="457.30" y="612.30" font-size="6.4" text-anchor="middle" fill="#4f9c55" stroke="#4f9c55" stroke-width="0.08">118</text>
<text x="502.80" y="612.30" font-size="6.4" text-anchor="middle" fill="#4f9c55" stroke="#4f9c55" stroke-width="0.08">61</text>
<text x="6.25" y="622.60" font-size="6.2" text-anchor="start" fill="#222" stroke="#222" stroke-width="0.08" textLength="229" lengthAdjust="spacingAndGlyphs">Kaplan-Meier curve (A.1 – A.3) showing risk of all-cause mortality by risky health behavior.</text>
<text x="6.25" y="629.00" font-size="6.2" text-anchor="start" fill="#222" stroke="#222" stroke-width="0.08" textLength="287.2" lengthAdjust="spacingAndGlyphs">Cumulative incidence curve (B.1 – B.3) showing risk of non-recurrence related mortality by risky health behavior.</text>
<rect x="0" y="0" width="520" height="1.2" fill="#666"/>
<rect x="0" y="0" width="1.2" height="638" fill="#666"/>
<rect x="518.7" y="0" width="1.3" height="638" fill="#4a4a4a"/>
<rect x="0" y="636.7" width="520" height="1.3" fill="#444"/>
</svg></body></html>
